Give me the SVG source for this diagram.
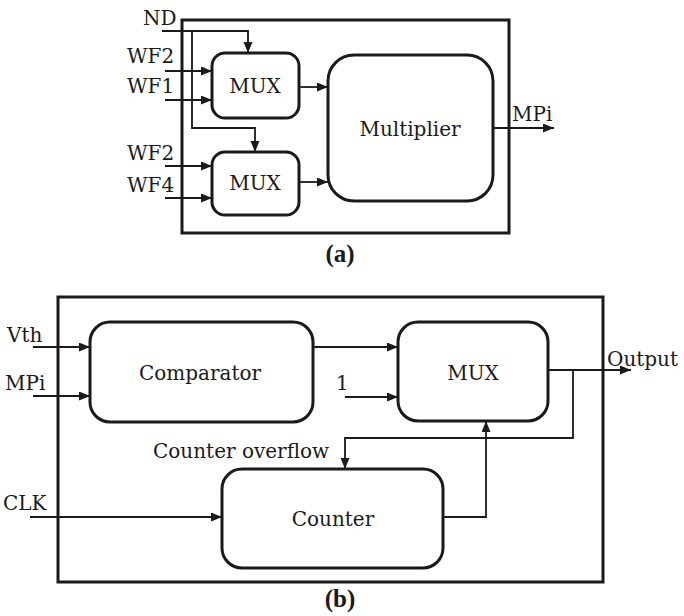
<svg xmlns="http://www.w3.org/2000/svg" width="684" height="616" viewBox="0 0 684 616">
  <defs>
    <marker id="arrow" markerUnits="userSpaceOnUse" markerWidth="12" markerHeight="10" refX="11" refY="4.5" orient="auto">
      <path d="M0,0 L11,4.5 L0,9 z" fill="#1a1a1a"/>
    </marker>
    <style>
      .frame { fill: none; stroke: #1a1a1a; stroke-width: 3; }
      .block { fill: #ffffff; stroke: #1a1a1a; stroke-width: 3; }
      .wire { fill: none; stroke: #1a1a1a; stroke-width: 1.8; }
      .arr { marker-end: url(#arrow); }
      text { font-family: "DejaVu Serif", "Liberation Serif", serif; font-size: 20px; fill: #1a1a1a; }
      .mid { text-anchor: middle; }
      .cap { font-family: "Liberation Serif", "Times New Roman", serif; font-weight: bold; font-size: 25px; }
    </style>
  </defs>
  <rect width="684" height="616" fill="#ffffff"/>

  <!-- (a) weighting multiplier -->
  <rect class="frame" x="182" y="20" width="327" height="213"/>

  <g id="connectors-a">
    <path class="wire arr" d="M162,31 H248 V53"/>
    <path class="wire arr" d="M192,31 V128 H255 V152"/>
    <path class="wire arr" d="M165,71 H212"/>
    <path class="wire arr" d="M165,100 H212"/>
    <path class="wire arr" d="M165,166 H212"/>
    <path class="wire arr" d="M165,198 H212"/>
    <path class="wire arr" d="M299,87 H328"/>
    <path class="wire arr" d="M299,182 H328"/>
    <path class="wire arr" d="M493,128 H554"/>
  </g>

  <g id="mux-a1">
    <rect class="block" x="212" y="53" width="87" height="65" rx="13"/>
    <text class="mid" x="255" y="93">MUX</text>
  </g>
  <g id="mux-a2">
    <rect class="block" x="212" y="152" width="87" height="63" rx="13"/>
    <text class="mid" x="255" y="190">MUX</text>
  </g>
  <g id="multiplier">
    <rect class="block" x="328" y="55" width="165" height="146" rx="26"/>
    <text class="mid" x="410" y="136" font-size="21">Multiplier</text>
  </g>

  <g id="labels-a">
    <text x="143" y="25">ND</text>
    <text x="127" y="63">WF2</text>
    <text x="127" y="93">WF1</text>
    <text x="127" y="160">WF2</text>
    <text x="127" y="192">WF4</text>
    <text x="512" y="121">MPi</text>
    <text class="cap mid" x="340" y="262">(a)</text>
  </g>

  <!-- (b) threshold comparator with counter -->
  <rect class="frame" x="58" y="297" width="545" height="285"/>

  <g id="connectors-b">
    <path class="wire arr" d="M33,347 H90"/>
    <path class="wire arr" d="M33,396 H90"/>
    <path class="wire arr" d="M313,347 H398"/>
    <path class="wire arr" d="M345,397 H398"/>
    <path class="wire arr" d="M548,370 H631"/>
    <path class="wire arr" d="M573,370 V438 H345 V469"/>
    <path class="wire arr" d="M30,517 H222"/>
    <path class="wire arr" d="M443,517 H486 V421"/>
  </g>

  <g id="comparator">
    <rect class="block" x="90" y="322" width="223" height="100" rx="20"/>
    <text class="mid" x="200" y="380">Comparator</text>
  </g>
  <g id="mux-b">
    <rect class="block" x="398" y="322" width="150" height="99" rx="20"/>
    <text class="mid" x="473" y="380">MUX</text>
  </g>
  <g id="counter">
    <rect class="block" x="222" y="469" width="221" height="99" rx="20"/>
    <text class="mid" x="333" y="526">Counter</text>
  </g>

  <g id="labels-b">
    <text x="7" y="342">Vth</text>
    <text x="5" y="390">MPi</text>
    <text x="336" y="390">1</text>
    <text x="607" y="366">Output</text>
    <text x="153" y="458" font-size="20.5">Counter overflow</text>
    <text x="3" y="510">CLK</text>
    <text class="cap mid" x="340" y="607">(b)</text>
  </g>
</svg>
